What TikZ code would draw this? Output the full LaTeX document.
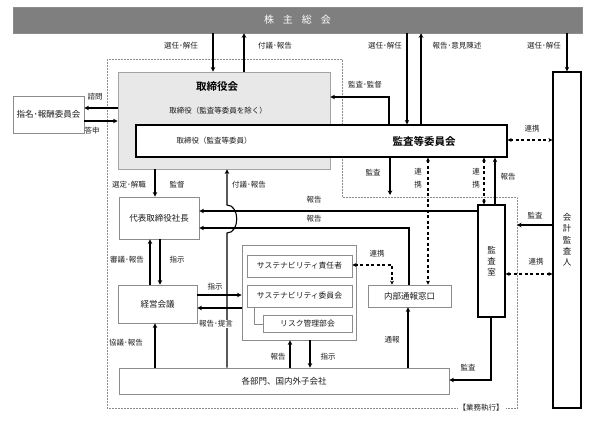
\documentclass[tikz,border=0pt]{standalone}
\usepackage{fontspec}
\setmainfont{Noto Sans CJK JP}[BoldFont={Noto Sans CJK JP Bold}]
\usetikzlibrary{arrows.meta}
\definecolor{bargray}{HTML}{7F7F7F}
\definecolor{boardfill}{HTML}{E8E8E8}
\definecolor{boxgray}{HTML}{8C8C8C}
\definecolor{labc}{HTML}{1F1F1F}
\definecolor{txt}{HTML}{1A1A1A}
\begin{document}
\begin{tikzpicture}[x=1pt,y=-1pt,
  lbl/.style={font=\fontsize{7.5}{8.5}\selectfont, text=labc, inner sep=0},
  vlbl/.style={font=\fontsize{7.5}{13}\selectfont, text=labc, inner sep=0, align=center},
  box/.style={draw=boxgray, line width=0.8pt, fill=white, inner sep=0, font=\fontsize{8.5}{10}\selectfont, text=txt},
  sbox/.style={draw=boxgray, line width=0.8pt, fill=white, inner sep=0, font=\fontsize{7.8}{9}\selectfont, text=txt},
  kbox/.style={draw=black, line width=1.2pt, fill=white, inner sep=0, font=\fontsize{8.5}{11.3}\selectfont, text=txt, align=center},
  arr/.style={line width=1.1pt, -{Stealth[length=4.5pt,width=4.5pt]}},
  darr/.style={line width=1.1pt, dash pattern=on 3pt off 2.5pt, {Stealth[length=4pt,width=4pt]}-{Stealth[length=4pt,width=4pt]}}]
\useasboundingbox (0,0) rectangle (593,421);
\fill[white] (0,0) rectangle (593,421);
% execution boundary
\draw[densely dotted, boxgray, line width=0.5pt] (457,408) -- (107,408) -- (107,59) -- (342,59) -- (342,197) -- (517,197) -- (517,408) -- (505,408);
\node[lbl] (exec) at (481,408) {【業務執行】};
% general meeting
\node[fill=bargray, draw=boxgray, line width=0.5pt, minimum width=569pt, minimum height=26pt, inner sep=0, text=white, font=\fontsize{10}{12}\selectfont] (gm) at (297.5,20) {株\hspace{0.9em}主\hspace{0.9em}総\hspace{0.9em}会};
% board
\node[draw=boxgray!80, fill=boardfill, line width=0.8pt, minimum width=212pt, minimum height=97pt, inner sep=0] (board) at (224,120.5) {};
\node[font=\fontsize{10.5}{12}\selectfont\bfseries, text=black, inner sep=0] (boardt) at (217,87) {取締役会};
\node[font=\fontsize{7.5}{9}\selectfont, text=txt, inner sep=0] (boardd) at (218,111) {取締役（監査等委員を除く）};
% audit committee
\node[kbox, minimum width=371pt, minimum height=32pt] (audit) at (321.5,141) {};
\node[font=\fontsize{7.5}{9}\selectfont, text=txt, inner sep=0] (auditd) at (214,141) {取締役（監査等委員）};
\node[font=\fontsize{10.5}{12}\selectfont\bfseries, text=black, inner sep=0] (auditt) at (424,141) {監査等委員会};
% other boxes
\node[box, minimum width=71pt, minimum height=37pt] (nom) at (48.5,114.5) {指名･報酬委員会};
\node[box, minimum width=80pt, minimum height=42pt] (ceo) at (159,218) {代表取締役社長};
\node[box, minimum width=79pt, minimum height=38pt] (mgmt) at (157.5,304) {経営会議};
\node[box, minimum width=330pt, minimum height=26pt] (dept) at (284,381) {各部門、国内外子会社};
\node[draw=boxgray, line width=0.8pt, fill=white, minimum width=114pt, minimum height=95pt, inner sep=0] (sus) at (299,292.5) {};
\node[sbox, minimum width=105pt, minimum height=22pt] (sresp) at (299.5,266) {サステナビリティ責任者};
\node[sbox, minimum width=105pt, minimum height=22pt] (scomm) at (299.5,296) {サステナビリティ委員会};
\node[sbox, minimum width=89pt, minimum height=17pt] (risk) at (307.5,323.5) {リスク管理部会};
\draw[boxgray, line width=0.8pt] (scomm.south -| 254,0) -- (254,324) -- (risk.west |- 0,324);
\node[box, minimum width=83pt, minimum height=22pt] (whistle) at (409.5,296) {内部通報窓口};
\node[kbox, minimum width=27pt, minimum height=112pt] (aroom) at (491.5,261) {監\\査\\室};
\node[kbox, minimum width=28pt, minimum height=336pt] (acct) at (567,240) {会\\計\\監\\査\\人};
% top arrows
\draw[arr] (gm.south -| 213,0) -- (board.north -| 213,0);
\draw[arr] (board.north -| 244,0) -- (gm.south -| 244,0);
\draw[arr] (gm.south -| 407,0) -- (audit.north -| 407,0);
\draw[arr] (audit.north -| 421,0) -- (gm.south -| 421,0);
\draw[arr] (gm.south -| 567,0) -- (acct.north);
\node[lbl] (l1) at (181,46) {選任･解任};
\node[lbl] (l2) at (275,46) {付議･報告};
\node[lbl] (l3) at (385,46) {選任･解任};
\node[lbl] (l4) at (457,46) {報告･意見陳述};
\node[lbl] (l5) at (544,46) {選任･解任};
% nomination
\draw[arr] (board.west |- 0,108) -- (nom.east |- 0,108);
\draw[arr] (nom.east |- 0,121) -- (board.west |- 0,121);
\node[lbl] (l6) at (95,97) {諮問};
\node[lbl] (l7) at (92,131) {答申};
% audit -> board
\draw[arr] (audit.north -| 389,0) -- (389,97) -- (board.east |- 0,97);
\node[lbl] (l8) at (365,85) {監査･監督};
\draw[darr] (audit.east |- 0,140) -- (acct.west |- 0,140);
\node[lbl] (l9) at (532,129) {連携};
% board -> ceo
\draw[arr] (board.south -| 155,0) -- (ceo.north -| 155,0);
\node[lbl] (l10) at (129,185) {選定･解職};
\node[lbl] (l11) at (177,185) {監督};
% dept -> board with bump
\draw[arr] (dept.north -| 227,0) -- (227,233) .. controls (240,233) and (240,205) .. (227,205) -- (board.south -| 227,0);
\node[lbl] (l12) at (249,185) {付議･報告};
% reports to ceo
\draw[arr] (aroom.west |- 0,211) -- (ceo.east |- 0,211);
\draw[arr] (whistle.north -| 409,0) -- (409,228) -- (ceo.east |- 0,228);
\node[lbl] (l13) at (314,200) {報告};
\node[lbl] (l14) at (314,219) {報告};
% audit committee downward
\coordinate (auddown) at (390,195);
\draw[arr] (audit.south -| 390,0) -- (auddown);
\node[lbl] (l15) at (373,173) {監査};
\draw[darr] (audit.south -| 428,0) -- (whistle.north -| 428,0);
\node[vlbl] (l16) at (418,178.5) {連\\携};
\draw[darr] (audit.south -| 484,0) -- (aroom.north -| 484,0);
\node[vlbl] (l17) at (476,178.5) {連\\携};
\draw[arr] (aroom.north -| 495,0) -- (audit.south -| 495,0);
\node[lbl] (l18) at (508,177) {報告};
% accountant
\coordinate (accaud) at (517,225);
\draw[arr] (acct.west |- accaud) -- (accaud);
\node[lbl] (l19) at (535,216) {監査};
\draw[darr] (aroom.east |- 0,274) -- (acct.west |- 0,274);
\node[lbl] (l20) at (536,262) {連携};
% ceo <-> mgmt
\draw[arr] (mgmt.north -| 150,0) -- (ceo.south -| 150,0);
\draw[arr] (ceo.south -| 160,0) -- (mgmt.north -| 160,0);
\node[lbl] (l21) at (127,260) {審議･報告};
\node[lbl] (l22) at (177,260) {指示};
% mgmt <-> sustainability
\draw[arr] (mgmt.east |- 0,295) -- (sus.west |- 0,295);
\node[lbl] (l23) at (215,287) {指示};
\draw[arr] (sus.west |- 0,308) -- (mgmt.east |- 0,308);
\node[lbl, fill=white, inner sep=1pt] (l24) at (216,324) {報告･提言};
% dept -> mgmt
\draw[arr] (dept.north -| 155,0) -- (mgmt.south -| 155,0);
\node[lbl] (l25) at (126,343) {協議･報告};
% dept <-> sustainability
\draw[arr] (dept.north -| 290,0) -- (sus.south -| 290,0);
\draw[arr] (sus.south -| 310,0) -- (dept.north -| 310,0);
\node[lbl] (l26) at (278,357) {報告};
\node[lbl] (l27) at (328,357) {指示};
% sustainability <-> whistle
\draw[darr] (sresp.east |- 0,265) -- (392,265) -- (whistle.north -| 392,0);
\node[lbl] (l28) at (377,254) {連携};
\draw[arr] (dept.north -| 408,0) -- (whistle.south -| 408,0);
\node[lbl] (l29) at (392,340) {通報};
% audit room -> dept
\draw[arr] (aroom.south -| 491,0) -- (491,380) -- (dept.east |- 0,380);
\node[lbl] (l30) at (468,368) {監査};
\end{tikzpicture}
\end{document}
